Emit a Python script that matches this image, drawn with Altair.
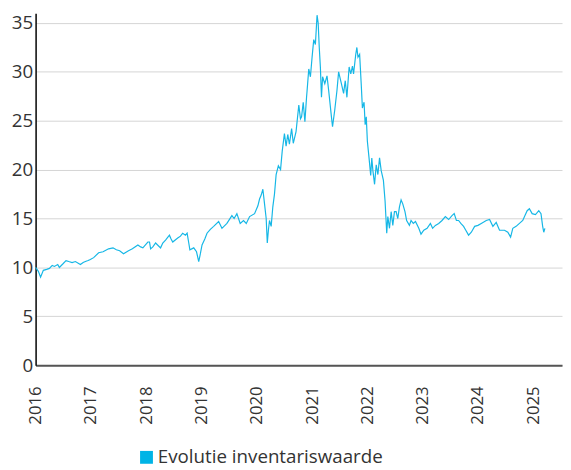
import altair as alt
import pandas as pd

# decimal year positions and NAV values
years = [
    2016.00, 2016.05, 2016.09, 2016.14, 2016.20, 2016.25, 2016.30, 2016.34, 2016.40, 2016.43,
    2016.50, 2016.55, 2016.60, 2016.66, 2016.72, 2016.81, 2016.86, 2016.90, 2016.95, 2016.99,
    2017.05, 2017.14, 2017.22, 2017.32, 2017.40, 2017.46, 2017.52, 2017.59, 2017.68, 2017.75,
    2017.85, 2017.90, 2017.94, 2018.03, 2018.06, 2018.08, 2018.12, 2018.17, 2018.26, 2018.30,
    2018.35, 2018.42, 2018.45, 2018.48, 2018.57, 2018.62, 2018.66, 2018.71, 2018.74, 2018.77,
    2018.79, 2018.86, 2018.91, 2018.95, 2018.98, 2019.01, 2019.06, 2019.10, 2019.16, 2019.22,
    2019.31, 2019.37, 2019.46, 2019.55, 2019.59, 2019.64, 2019.70, 2019.76, 2019.81, 2019.87,
    2019.96, 2020.02, 2020.05, 2020.08, 2020.11, 2020.14, 2020.17, 2020.19, 2020.21, 2020.23,
    2020.26, 2020.29, 2020.32, 2020.35, 2020.39, 2020.43, 2020.46, 2020.50, 2020.53, 2020.56,
    2020.59, 2020.63, 2020.66, 2020.71, 2020.76, 2020.79, 2020.81, 2020.84, 2020.87, 2020.90,
    2020.91, 2020.94, 2020.97, 2021.00, 2021.03, 2021.06, 2021.09, 2021.11, 2021.13, 2021.15,
    2021.17, 2021.19, 2021.23, 2021.27, 2021.30, 2021.35, 2021.37, 2021.41, 2021.45, 2021.48,
    2021.53, 2021.57, 2021.60, 2021.63, 2021.67, 2021.70, 2021.73, 2021.75, 2021.79, 2021.81,
    2021.83, 2021.86, 2021.89, 2021.91, 2021.94, 2021.96, 2021.98, 2022.00, 2022.03, 2022.06,
    2022.08, 2022.10, 2022.13, 2022.16, 2022.19, 2022.22, 2022.25, 2022.29, 2022.32, 2022.35,
    2022.37, 2022.40, 2022.43, 2022.46, 2022.49, 2022.52, 2022.55, 2022.58, 2022.61, 2022.64,
    2022.68, 2022.71, 2022.76, 2022.79, 2022.83, 2022.87, 2022.93, 2022.97, 2023.02, 2023.08,
    2023.14, 2023.18, 2023.23, 2023.29, 2023.35, 2023.41, 2023.47, 2023.53, 2023.57, 2023.61,
    2023.65, 2023.69, 2023.74, 2023.78, 2023.83, 2023.88, 2023.94, 2024.00, 2024.06, 2024.15,
    2024.21, 2024.27, 2024.33, 2024.39, 2024.48, 2024.54, 2024.59, 2024.63, 2024.69, 2024.75,
    2024.81, 2024.85, 2024.89, 2024.93, 2024.98, 2025.04, 2025.10, 2025.14, 2025.17, 2025.19,
    2025.21,
]
values = [
    10.0, 9.6, 9.0, 9.7, 9.8, 9.9, 10.2, 10.1, 10.3, 10.0,
    10.4, 10.7, 10.6, 10.5, 10.6, 10.3, 10.5, 10.6, 10.7, 10.8,
    11.0, 11.5, 11.6, 11.9, 12.0, 11.8, 11.7, 11.4, 11.7, 11.9,
    12.3, 12.1, 12.0, 12.6, 12.6, 11.9, 12.1, 12.5, 12.0, 12.5,
    12.8, 13.3, 12.9, 12.6, 13.0, 13.2, 13.5, 13.3, 13.5, 12.5,
    11.8, 12.0, 11.6, 10.6, 11.4, 12.3, 12.9, 13.5, 13.9, 14.2,
    14.7, 14.0, 14.5, 15.3, 15.0, 15.5, 14.5, 14.8, 14.5, 15.2,
    15.5, 16.3, 17.0, 17.4, 18.0, 16.5, 15.0, 12.5, 13.8, 14.8,
    14.2, 16.2, 17.5, 19.5, 20.4, 20.0, 21.9, 23.7, 22.4, 23.6,
    22.6, 24.2, 22.7, 23.9, 26.6, 25.2, 25.4, 26.9, 24.9, 27.4,
    28.1, 30.3, 29.5, 31.5, 33.3, 32.8, 35.8, 35.0, 32.5, 30.5,
    27.4, 29.5, 28.8, 29.6, 28.1, 25.4, 24.4, 26.1, 28.1, 30.0,
    28.8, 27.8, 29.1, 27.4, 30.5, 29.8, 30.6, 29.8, 31.8, 32.5,
    31.5, 31.8, 28.6, 26.3, 26.9, 24.6, 25.4, 22.9, 21.2, 19.4,
    21.2, 19.9, 18.5, 20.5, 19.5, 21.2, 19.9, 18.9, 16.8, 13.5,
    15.2, 14.0, 15.7, 14.3, 15.7, 15.7, 15.0, 16.2, 16.9, 16.5,
    15.7, 14.8, 14.3, 14.8, 14.5, 14.7, 14.0, 13.4, 13.8, 14.0,
    14.5, 14.0, 14.3, 14.5, 14.8, 15.2, 14.9, 15.3, 15.5, 14.8,
    14.8, 14.5, 14.2, 13.8, 13.3, 13.6, 14.2, 14.3, 14.5, 14.8,
    14.9, 14.2, 14.6, 13.8, 13.8, 13.6, 13.1, 14.0, 14.2, 14.5,
    14.8, 15.3, 15.8, 16.0, 15.5, 15.4, 15.8, 15.5, 14.2, 13.6,
    14.0,
]
series_name = "Evolutie inventariswaarde"
year_ticks = [2016, 2017, 2018, 2019, 2020, 2021, 2022, 2023, 2024, 2025]
y_ticks = [0, 5, 10, 15, 20, 25, 30, 35]

df = pd.DataFrame({"jaar": years, "waarde": values, "serie": series_name})

FONT = "Open Sans"
LINE = "#16b7e6"

chart = (
    alt.Chart(df)
    .mark_line(strokeWidth=1.2)
    .encode(
        x=alt.X(
            "jaar:Q",
            scale=alt.Scale(domain=[2016, 2025.52], nice=False, zero=False),
            axis=alt.Axis(
                values=year_ticks,
                format="d",
                title=None,
                grid=False,
                ticks=False,
                labelAngle=270,
                labelAlign="right",
                labelBaseline="middle",
                labelPadding=21,
                labelFont=FONT,
                labelFontSize=17,
                labelColor="#333333",
                domainColor="#555555",
                domainWidth=2,
                labelOverlap=False,
            ),
        ),
        y=alt.Y(
            "waarde:Q",
            scale=alt.Scale(domain=[0, 36], nice=False),
            axis=alt.Axis(
                values=y_ticks,
                title=None,
                grid=True,
                gridColor="#d4d4d4",
                gridWidth=1,
                ticks=False,
                labelPadding=3,
                labelFont=FONT,
                labelFontSize=19,
                labelColor="#333333",
                domainColor="#000000",
                domainWidth=1.5,
            ),
        ),
        color=alt.Color(
            "serie:N",
            scale=alt.Scale(domain=[series_name], range=[LINE]),
            legend=alt.Legend(
                title=None,
                orient="none",
                legendX=103,
                legendY=441,
                padding=0,
                symbolType="square",
                symbolSize=170,
                symbolFillColor="#00b4e6",
                symbolStrokeColor="#00b4e6",
                symbolStrokeWidth=0,
                labelFont=FONT,
                labelFontSize=19,
                labelColor="#333333",
                labelOffset=2,
                labelLimit=0,
            ),
        ),
    )
    .properties(
        width=534,
        height=357,
        autosize=alt.AutoSizeParams(type="none"),
        padding={"left": 28, "top": 2, "right": 1, "bottom": 102},
    )
    .configure_view(stroke=None)
)

chart.save("out.html", embed_options={"renderer": "svg", "actions": False})
